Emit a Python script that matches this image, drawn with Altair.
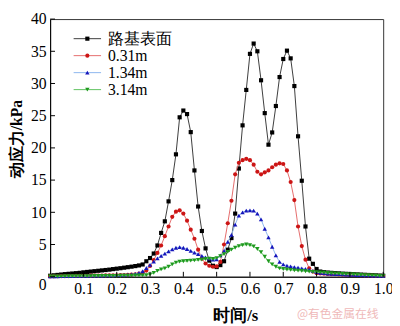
import altair as alt
import pandas as pd

# time grid (s) of the sampled points
times = [round(i / 90, 4) for i in range(91)]

names = ["路基表面", "0.31m", "1.34m", "3.14m"]

black = [0.15, 0.22, 0.28, 0.34, 0.4, 0.45, 0.5, 0.55, 0.6, 0.68,
         0.74, 0.8, 0.86, 0.92, 0.98, 1.04, 1.1, 1.18, 1.25, 1.32,
         1.4, 1.48, 1.56, 1.65, 1.75,
         1.9, 2.4, 2.9, 3.6, 4.85, 6.8, 8.6, 11.7, 15.0, 19.0, 24.75,
         25.8, 25.25, 22.45, 16.5, 10.9, 7.1, 4.4, 2.5, 1.7, 1.5,
         1.8, 2.4, 4.2, 6.0, 9.8, 16.8, 23.5, 29.0,
         34.6, 36.2, 35.0, 30.5, 25.4, 20.5, 22.4, 26.5, 31.0, 33.8,
         35.1, 33.9, 29.6, 21.8, 14.9, 7.8, 2.8, 2.0, 1.2,
         0.8, 0.7, 0.65, 0.6, 0.56, 0.52, 0.48, 0.45, 0.42, 0.39,
         0.36, 0.33, 0.3, 0.27, 0.24, 0.21, 0.18, 0.15]

red = [0.05, 0.06, 0.07, 0.08, 0.09, 0.1, 0.11, 0.12, 0.13, 0.14,
       0.15, 0.16, 0.17, 0.18, 0.19, 0.2, 0.21, 0.22, 0.23, 0.24,
       0.26, 0.28, 0.32, 0.38, 0.48, 0.65, 0.95,
       1.67, 2.6, 3.7, 4.85, 6.3, 7.8, 9.3, 10.1, 10.3, 9.8, 8.7, 7.3, 5.9,
       4.2, 2.8, 2.05, 1.7, 1.55, 1.6,
       2.3, 5.0, 8.3, 11.8, 15.9, 17.7, 18.1, 18.3,
       18.1, 17.4, 16.3, 15.9, 16.2, 16.5, 17.0, 17.4, 17.6, 17.5,
       16.5, 14.7, 11.9, 7.8, 4.75, 2.65, 1.3, 0.8, 0.55,
       0.5, 0.47, 0.44, 0.41, 0.38, 0.35, 0.33, 0.31, 0.29, 0.27,
       0.25, 0.23, 0.21, 0.19, 0.17, 0.15, 0.13, 0.11]

blue = [0.05, 0.06, 0.07, 0.08, 0.09, 0.1, 0.11, 0.12, 0.13, 0.14,
        0.15, 0.16, 0.17, 0.18, 0.19, 0.2, 0.21, 0.22, 0.24, 0.26,
        0.28, 0.31, 0.36, 0.45, 0.6,
        0.85, 1.35, 1.85, 2.35, 2.85, 3.25, 3.6, 3.95, 4.25, 4.5, 4.6,
        4.5, 4.3, 4.0, 3.75, 3.5, 3.25, 3.0, 2.8, 2.65, 2.7,
        3.3, 4.0, 5.4, 6.5, 8.1, 9.5, 10.0, 10.25,
        10.3, 10.25, 9.8, 8.9, 7.45, 6.1, 4.65, 3.3, 2.3, 1.9,
        1.7, 1.6, 1.5, 1.4, 1.3, 1.2, 1.1, 0.9, 0.7,
        0.6, 0.55, 0.5, 0.46, 0.42, 0.39, 0.36, 0.33, 0.3, 0.28,
        0.26, 0.24, 0.22, 0.2, 0.18, 0.16, 0.15, 0.14]

green = [0.05, 0.05, 0.06, 0.06, 0.07, 0.07, 0.08, 0.08, 0.09, 0.09,
         0.1, 0.1, 0.11, 0.11, 0.12, 0.12, 0.13, 0.13, 0.14, 0.15,
         0.16, 0.17, 0.18, 0.19, 0.2, 0.22, 0.26, 0.35,
         0.6, 0.9, 1.13, 1.3, 1.57, 1.9, 2.2, 2.35, 2.4, 2.45, 2.5, 2.55,
         2.6, 2.65, 2.75, 2.8, 2.75, 2.9,
         3.2, 3.5, 3.85, 4.2, 4.5, 4.75, 4.9, 5.0,
         4.9, 4.7, 4.3, 3.8, 3.1, 2.4, 1.9, 1.55, 1.3, 1.2,
         1.12, 1.06, 1.0, 0.95, 0.9, 0.85, 0.8, 0.75, 0.7,
         0.66, 0.62, 0.58, 0.54, 0.5, 0.47, 0.44, 0.41, 0.38, 0.35,
         0.32, 0.29, 0.26, 0.23, 0.2, 0.17, 0.14, 0.12]

series_values = [black, red, blue, green]
x_ticks = [0.1, 0.2, 0.3, 0.4, 0.5, 0.6, 0.7, 0.8, 0.9, 1.0]
y_ticks = [0, 5, 10, 15, 20, 25, 30, 35, 40]

line_colors = ["#3a3a3a", "#e46a6a", "#8cb6ee", "#5fc25f"]
point_colors = ["#000000", "#cc1515", "#1515bb", "#1e9a1e"]
shapes = ["square", "circle", "triangle-up", "triangle-down"]
sizes = [18, 18, 20, 20]

NUMFONT = "Times New Roman"
FONT = "serif"
W, H = 340, 263

xscale = alt.Scale(domain=[0, 1], nice=False)
yscale = alt.Scale(domain=[0, 40], nice=False)

xaxis = alt.Axis(values=x_ticks, format=".1f", ticks=False, grid=False,
                 domainColor="#000", domainWidth=1,
                 labelFont=NUMFONT, labelFontSize=16, labelColor="#000",
                 labelPadding=4, labelFlush=False,
                 title="时间/s", titleFont=FONT, titleFontSize=17,
                 titleFontWeight="bold", titleColor="#000",
                 titleX=189, titleY=32, titleBaseline="top")
yaxis = alt.Axis(values=y_ticks, ticks=False, grid=False,
                 domainColor="#000", domainWidth=1,
                 labelFont=NUMFONT, labelFontSize=16, labelColor="#000",
                 labelPadding=4, labelFlush=False,
                 labelBaseline={"expr": "datum.value == 0 ? 'top' : 'middle'"},
                 title="动应力/kPa", titleFont=FONT, titleFontSize=16,
                 titleFontWeight="bold", titleColor="#000",
                 titleX=-34, titleY=122, titleAngle=270,
                 titleAlign="center", titleBaseline="middle")

X = alt.X("t:Q", scale=xscale, axis=xaxis)
Y = alt.Y("v:Q", scale=yscale, axis=yaxis)

main_layers = []
for k in range(4):
    df = pd.DataFrame({"t": times, "v": series_values[k]})
    base = alt.Chart(df)
    main_layers.append(base.mark_line(color=line_colors[k], strokeWidth=1).encode(x=X, y=Y))
    main_layers.append(base.mark_point(shape=shapes[k], filled=True, size=sizes[k],
                                       color=point_colors[k], opacity=1).encode(x=X, y=Y))

# inward tick marks
ytick_df = pd.DataFrame({"v": y_ticks})
xtick_df = pd.DataFrame({"t": x_ticks})
main_layers.append(alt.Chart(ytick_df).mark_rule(color="#000", strokeWidth=1).encode(
    y=Y, x=alt.value(0), x2=alt.value(5)))
main_layers.append(alt.Chart(xtick_df).mark_rule(color="#000", strokeWidth=1).encode(
    x=X, y=alt.value(H), y2=alt.value(H - 5)))

main = alt.layer(*main_layers)

# legend drawn inside the plot
LY = alt.Y("name:N", scale=alt.Scale(type="point", domain=names, range=[20, 72], padding=0), axis=None)
legend_layers = []
for k in range(4):
    ldf = pd.DataFrame({"name": [names[k]]})
    lb = alt.Chart(ldf)
    legend_layers.append(lb.mark_rule(color=line_colors[k], strokeWidth=1).encode(
        y=LY, x=alt.value(24), x2=alt.value(52)))
    legend_layers.append(lb.mark_point(shape=shapes[k], filled=True, size=sizes[k],
                                       color=point_colors[k], opacity=1).encode(
        y=LY, x=alt.value(38)))
    legend_layers.append(lb.mark_text(align="left", baseline="middle", font=FONT,
                                      fontSize=16, color="#000").encode(
        y=LY, x=alt.value(59), text="name:N"))
legend = alt.layer(*legend_layers)

wm = alt.Chart(pd.DataFrame({"s": ["@有色金属在线"]})).mark_text(
    align="left", baseline="middle", font="Noto Sans CJK SC", fontSize=12,
    color="#efb9b9").encode(text="s:N", x=alt.value(252), y=alt.value(301))

chart = alt.layer(main, legend, wm).resolve_scale(y="independent").properties(
    width=W, height=H,
    autosize=alt.AutoSizeParams(type="none"),
    padding={"left": 43, "top": 8, "right": 9, "bottom": 47},
    background="white",
).configure_view(stroke="#333", strokeWidth=1)

chart.save("out.html", embed_options={"renderer": "svg", "actions": False})
